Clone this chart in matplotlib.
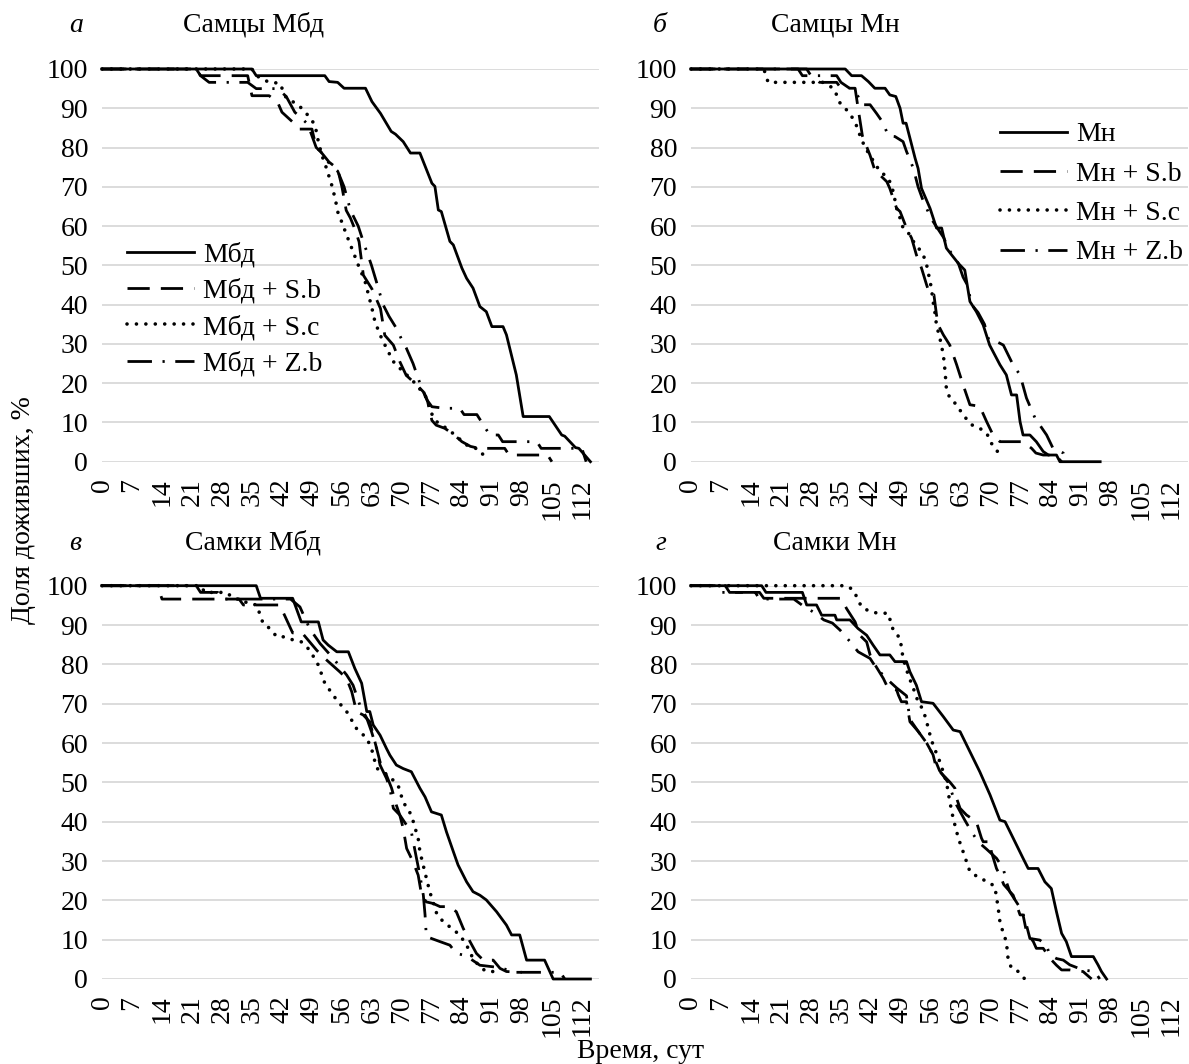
import matplotlib
matplotlib.use("Agg")
import matplotlib.pyplot as plt

plt.rcParams["font.family"] = ["Liberation Serif", "DejaVu Serif"]

# --- data (day, % surviving) ---
TICK_DAYS = [0, 7, 14, 21, 28, 35, 42, 49, 56, 63, 70, 77, 84, 91, 98, 105, 112]
Y_TICKS = [0, 10, 20, 30, 40, 50, 60, 70, 80, 90, 100]

# а: самцы Мбд
a_ctrl_t = [0, 35, 36, 52, 53, 55, 56.5, 61.5, 63, 65, 67.5, 68.5, 70.3, 72, 74.2, 77, 77.7, 78.5, 79.2, 81.2,
            82, 84, 85.1, 86.6, 88.2, 89.7, 91, 93.6, 94.4, 96.7, 98.3, 104.4, 107.3, 108, 110.5, 111.3, 114]
a_ctrl_s = [100, 100, 98.3, 98.3, 96.8, 96.6, 95.1, 95.1, 91.7, 88.7, 84.1, 83.4, 81.5, 78.6, 78.6, 70.9, 70.1,
            64.1, 63.7, 56.1, 55.2, 49.3, 46.7, 44.2, 39.5, 38.2, 34.4, 34.4, 32.3, 22.1, 11.5, 11.5, 6.8, 6.5,
            3.6, 3.4, 0]
a_sb_t = [0, 22, 23, 34, 35, 39, 41, 42, 45, 46, 49, 50, 51, 53, 55, 56, 57, 58, 59, 60, 61, 63, 65, 66, 68,
          69.5, 71, 73.5, 75, 76, 77, 78, 80, 82, 84, 86, 88, 94, 95, 104, 105]
a_sb_s = [100, 100, 98.3, 98.3, 93.2, 93.2, 91.5, 89, 86, 84.7, 84.7, 80, 79, 76.3, 74.6, 70, 64, 62, 59.3, 56,
          47.5, 44, 39, 32.2, 29.7, 25.5, 22, 19.5, 17.8, 15.3, 10.5, 9.3, 8.5, 7, 5.1, 3.9, 3.4, 3.4, 1.7,
          1.7, 0]
a_sc_t = [0, 35, 36, 39, 41.5, 43, 45.8, 48, 49.7, 50.5, 51.3, 52.4, 53.6, 54.4, 55.1, 55.9, 57.1, 58.6, 59.8,
          61.4, 63, 63.7, 64.9, 66.4, 68, 69.5, 71.9, 73.4, 75.8, 76.9, 78.1, 80.4, 82.4, 85, 88.2, 90]
a_sc_s = [100, 100, 98.3, 96.6, 96.4, 92.6, 90.9, 88.3, 85.8, 81.5, 78.1, 74.7, 70.5, 67.1, 63.3, 61.2, 57.7,
          53.5, 50.1, 45.9, 39.1, 35.7, 32.3, 28.9, 25.5, 23.8, 21.3, 19.6, 16.2, 12.3, 10.2, 8.5, 6.8, 4.3,
          3, 0]
a_zb_t = [0, 22, 23, 25, 34, 36, 41, 43, 45, 48, 50, 51, 53, 55, 56.5, 58, 59.8, 61, 62.9, 64, 65.6, 67, 68.7,
          70, 71, 72.6, 74.2, 76, 77, 80, 83.5, 84.5, 87.5, 89, 90.5, 92.5, 93.5, 101.5, 102.5, 112, 113]
a_zb_s = [100, 100, 98.3, 96.6, 96.6, 95, 95, 93, 89, 86, 80, 79, 76, 74, 70, 64, 60, 56, 50, 46, 40, 37, 34,
          31, 29, 25, 20, 15.5, 14, 13.6, 13.6, 12, 12, 9.4, 6.8, 6.8, 5.1, 5.1, 3.4, 3.4, 0]

# б: самцы Мн
b_ctrl_t = [0, 36, 37.5, 39.8, 41.4, 42.9, 45.3, 46.4, 47.8, 48.8, 49.5, 50.2, 51.1, 52.3, 53, 53.8, 55.8,
            57.3, 58.5, 59.6, 60.8, 62.4, 63.9, 65.1, 66.6, 68.2, 69.7, 72.1, 73.6, 74.8, 76, 76.8, 77.5,
            79.1, 80.6, 82.2, 83.4, 85.3, 86.1, 95.5]
b_ctrl_s = [100, 100, 98.3, 98.3, 96.8, 95.1, 95.1, 93.4, 93, 90, 86.2, 86.2, 82.4, 77.3, 74.7, 69.6, 64.5,
            59.5, 59.5, 54.4, 52.7, 50.5, 48.8, 40.8, 38.2, 34.8, 29.7, 24.7, 22.1, 17, 17, 10.2, 6.8, 6.8,
            5.1, 2.6, 1.7, 1.7, 0, 0]
b_sb_t = [0, 27, 28, 30, 34, 35, 38.3, 39, 40, 41.8, 43, 44.1, 45.7, 46.4, 48, 48.8, 50.3, 51.5, 52.6, 53.8,
          55, 55.8, 56.7, 57.3, 57.7, 58.9, 60.4, 62, 63.5, 65.1, 67.4, 69, 70.5, 72.1, 77.5, 79.5, 80.5,
          82.2, 85, 86.5]
b_sb_s = [100, 100, 98.3, 96.6, 96.6, 95.1, 95.1, 90, 83, 78, 73.9, 73, 71.3, 69.6, 64.5, 63.7, 59.5, 56.9,
          52.7, 49.3, 45, 42.5, 42.5, 37.4, 34.8, 32.3, 29.7, 24.7, 19.6, 14.5, 14.1, 10.2, 6.8, 5.1, 5.1,
          3.4, 2.2, 1.7, 1.7, 0]
b_sc_t = [0, 17, 18, 30.9, 33.2, 34, 34.8, 36.3, 37.5, 38.7, 39.4, 40.2, 41.4, 42.9, 44.1, 45.7, 46.4, 47.2,
          48, 48.8, 49.5, 51.1, 51.9, 53.1, 54.2, 55, 55.8, 56.1, 56.5, 56.9, 57.3, 58.1, 58.9, 59.3, 59.6,
          60.4, 62, 63.5, 65.5, 67.4, 69, 70.1, 71.3, 72.5]
b_sc_s = [100, 100, 96.6, 96.6, 95.1, 93.4, 91.3, 89.6, 87.9, 85.4, 83.2, 81.1, 78.6, 76, 73.9, 72.6, 71.3,
          68.8, 64.5, 62, 59.5, 57.8, 56.1, 54.4, 52.7, 50.1, 45.9, 44.2, 40.8, 38.2, 34.8, 31.4, 27.2, 23,
          18.7, 16.2, 14.5, 11.9, 9.4, 8.5, 7.3, 4.7, 3, 0.9]
b_zb_t = [0, 25, 26, 34, 35, 37, 39, 39.8, 41.8, 43.3, 44.9, 46, 47.6, 49.5, 50.3, 51.9, 53, 54, 56, 57.5, 59,
          60, 61, 62.4, 63.5, 64.5, 65.5, 67, 68.5, 69.5, 71.3, 72.9, 75.2, 76.8, 78.3, 80.3, 83, 84.5, 86.9,
          87.6]
b_zb_s = [100, 100, 98.3, 98.3, 96.6, 95.1, 93, 90.9, 90.9, 88.7, 86.2, 83, 82.8, 81.5, 79, 74.7, 70, 67, 62,
          59.5, 57, 54.4, 52.7, 50.5, 47, 45, 40, 38, 35, 31, 30.6, 29.7, 24.6, 22.1, 16.2, 11.1, 6.8, 3.4,
          2.2, 0]

# в: самки Мбд
c_ctrl_t = [0, 36, 37, 44.5, 46.5, 50.5, 51.6, 52.8, 54.8, 57.5, 59, 60.6, 61.8, 62.5, 63.3, 64.9, 66.4, 67.2,
            68.7, 70.3, 72.2, 74.2, 75.4, 76.9, 79.2, 80.4, 82, 83.1, 85.1, 86.6, 88.2, 89.7, 92.1, 94.4,
            95.6, 97.5, 99.1, 103.3, 105.3, 114]
c_ctrl_s = [100, 100, 96.8, 96.8, 90.8, 90.8, 86.2, 84.9, 83.2, 83.2, 79, 75.2, 68, 68, 64.6, 62, 58.6, 56.9,
            54.4, 53.5, 52.7, 48.5, 46.3, 42.5, 41.7, 37.4, 32.4, 29, 24.7, 22.2, 21.3, 20.1, 17.1, 13.7,
            11.2, 11.2, 4.8, 4.8, 0, 0]
c_sb_t = [0, 13, 14, 32, 33, 41.5, 44.5, 46.7, 50.1, 51.6, 55.5, 57.1, 58.3, 59.4, 61, 62.5, 63.3, 64.9, 66.4,
          67.6, 68.7, 69.5, 70.3, 71.1, 72.6, 73.8, 74.6, 75.7, 77.3, 78.9, 81.2, 82.7, 84.3, 85.9, 87.4, 89,
          91.3, 92.9, 94.4, 98]
c_sb_s = [100, 100, 96.6, 96.6, 95.1, 95.1, 88, 88, 83.6, 81.9, 78.1, 76.4, 73, 68, 67.1, 65.4, 62, 55.2,
          51.8, 48.5, 44.2, 41.7, 38.3, 33.2, 29.8, 26.4, 21.3, 19.6, 19.2, 18.4, 18.4, 17.1, 12.9, 9.5, 6.5,
          4.8, 4.8, 2.7, 1.9, 1.7]
c_sc_t = [0, 23, 24, 29, 31, 32.5, 34, 36.1, 37.6, 39.2, 40.8, 42.7, 44.6, 46.6, 48.5, 50.5, 52, 54.8, 57.1,
          59.4, 61.8, 62.9, 64.1, 66.8, 69.1, 70.3, 72.2, 73.8, 74.2, 75.4, 76.5, 78.1, 79.6, 81.6, 83.5,
          85.1, 86.6, 88.2, 89.7, 92]
c_sc_s = [100, 100, 98.3, 98.3, 96.6, 96.6, 95.5, 95.1, 90.4, 89.1, 87, 87, 86.2, 85.7, 83.6, 79.8, 75.2,
          70.9, 68, 63.7, 61.2, 58.6, 53.6, 51.8, 49.3, 45, 41.7, 35.7, 32.4, 27, 22.2, 16.7, 14.6, 12.9,
          11.2, 8.6, 5.2, 3.1, 1.9, 1.9]
c_zb_t = [0, 22, 23, 27, 28, 44, 46.2, 48.5, 50.9, 54, 57.1, 58.6, 60.2, 61.8, 62.9, 64.1, 64.9, 66.4, 67.2,
          68, 69.5, 71.1, 72.2, 73.4, 74.2, 75, 75.4, 75.7, 76.9, 78.9, 81.2, 82.7, 84.3, 85.9, 88.2, 91.3,
          93.6, 96, 107, 108]
c_zb_s = [100, 100, 98.3, 98.3, 96.6, 96.6, 94.6, 89, 85.3, 81.5, 77.3, 74.7, 69.6, 66.3, 62.9, 58.6, 54.4,
          51, 48.5, 43.4, 41.7, 39.1, 37.4, 30.7, 26.4, 21.3, 16.3, 10.8, 10.3, 9.5, 8.6, 6.5, 6.1, 5.2, 3.5,
          3.1, 2.7, 1.7, 1.7, 0]

# г: самки Мн
d_ctrl_t = [0, 16.5, 17.5, 26, 27, 29.3, 30.5, 33.6, 34, 37.1, 39, 41, 42.5, 44.1, 46.4, 47.6, 50.3, 51.1,
            52.6, 53.8, 56.5, 58.9, 61.2, 62.8, 65.1, 67.4, 69.8, 72.1, 73.3, 75.2, 77.5, 78.7, 81, 82.6,
            84.1, 85.3, 86.5, 87.6, 88.8, 93.9, 95, 95.8, 97]
d_ctrl_s = [100, 100, 98.3, 98.3, 95.1, 95.1, 92.5, 92.5, 91.3, 91.3, 89.1, 87.4, 84.9, 82.4, 82.4, 80.7,
            80.7, 78.1, 74.7, 70.5, 70.1, 66.7, 63.3, 62.9, 57.8, 52.7, 46.8, 40.4, 40, 35.8, 30.7, 28.1,
            28.1, 24.7, 23, 17.1, 11.6, 9.5, 5.7, 5.7, 3.6, 1.9, 0]
d_sb_t = [0, 8, 9, 16, 17, 35.1, 36.3, 38.3, 39.4, 41, 41.8, 43, 44.9, 46, 48, 48.4, 49.1, 50.3, 51.1, 53, 55,
          56.5, 57.3, 58.1, 60.4, 61.6, 62, 62.8, 64.3, 66.6, 67.8, 68.2, 69.8, 70.1, 71.3, 72.1, 73, 75.2,
          76.8, 77.5, 78.3, 79.9, 80.6, 82.2, 84, 85.3, 86.5, 88.4, 91.5, 93.5]
d_sb_s = [100, 100, 98.3, 98.3, 96.8, 96.8, 94.2, 90.8, 87.4, 85.7, 82.4, 79.8, 76.4, 73.9, 73.5, 72.2, 70.5,
          70.5, 65.4, 63, 60, 57, 53.5, 52.7, 50.1, 48.5, 45.9, 43.4, 41.7, 40, 35.8, 34.9, 34.9, 32.4, 28.1,
          26.4, 24, 21.3, 16.3, 16.3, 12, 9.5, 7.8, 7.8, 5, 3.5, 2.3, 2.3, 1.9, 0]
d_sc_t = [0, 36.3, 37.9, 39.8, 41.8, 43.7, 46, 47.2, 48.8, 49.5, 50.7, 51.9, 53, 54.2, 55, 55.8, 56.5, 58.1,
          59.6, 60.4, 61.2, 62.4, 63.5, 65.1, 67.4, 69.4, 70.9, 71.3, 71.7, 72.1, 72.9, 73.6, 74, 74.8, 76.4,
          77.9]
d_sc_s = [100, 100, 98.9, 94.6, 93.4, 93, 93, 88.7, 86.6, 81.5, 77.3, 73.9, 70.5, 68.4, 65.4, 62, 59.5, 55.2,
          50.2, 45.1, 40.8, 35.8, 32.4, 27.3, 25.6, 24.7, 23.5, 20.9, 18, 14.6, 11.6, 9.5, 5.2, 2.7, 1.9, 0]
d_zb_t = [0, 6, 7, 15, 16, 24, 26, 29, 31, 33, 34.8, 37.1, 39, 41.8, 43.3, 46, 48, 50.3, 51.1, 53, 55, 56.5,
          58, 60, 61, 62, 63.9, 65.5, 67, 69, 71.3, 72.9, 73.6, 74.4, 76.4, 77.1, 78.3, 79.1, 81.4, 83, 83.7,
          85.3, 86.9, 88.4, 91.5, 94.2, 95.4]
d_zb_s = [100, 100, 98.3, 98.3, 96.6, 96.6, 95, 93, 91.3, 90.5, 88.7, 85.8, 83.2, 81.5, 79, 76, 74, 72, 66,
          63, 60, 57, 53, 50, 47, 44.2, 40.4, 37.4, 34.9, 33, 30.7, 28.1, 24.7, 22.2, 18.8, 18, 13.7, 10.3,
          9.9, 8.6, 6.1, 5.2, 4.8, 3.6, 2.3, 1.9, 0]

W, H = 1189, 1064
fig = plt.figure(figsize=(W / 100, H / 100), dpi=100)


def px_axes(left, top, right, bottom):
    return fig.add_axes([left / W, 1 - bottom / H, (right - left) / W, (bottom - top) / H])


def fig_text(x, y, s, **kw):
    fig.text(x / W, 1 - y / H, s, **kw)


# line styles: solid, long dash, round dot, long dash-dot
styles = [
    dict(linestyle="-", linewidth=2.0),
    dict(linestyle=(0, (8, 4)), linewidth=2.0, dash_capstyle="butt"),
    dict(linestyle=(0, (0.01, 2.6)), linewidth=2.6, dash_capstyle="round"),
    dict(linestyle=(0, (8.8, 3.8, 0.8, 3.8)), linewidth=2.0, dash_capstyle="butt"),
]

panels = [
    dict(box=(102, 69, 599, 461.7), letter="а", letter_xy=(76, 25), title="Самцы Мбд", title_xy=(254, 25),
         base="Мбд", series=[(a_ctrl_t, a_ctrl_s), (a_sb_t, a_sb_s), (a_sc_t, a_sc_s), (a_zb_t, a_zb_s)],
         legend=(127, 242, 0.39)),
    dict(box=(691, 69, 1188, 461.7), letter="б", letter_xy=(660, 25), title="Самцы Мн", title_xy=(835, 25),
         base="Мн", series=[(b_ctrl_t, b_ctrl_s), (b_sb_t, b_sb_s), (b_sc_t, b_sc_s), (b_zb_t, b_zb_s)],
         legend=(1000, 122, 0.5)),
    dict(box=(102, 585.7, 599, 979), letter="в", letter_xy=(75, 543), title="Самки Мбд", title_xy=(253, 543),
         base="Мбд", series=[(c_ctrl_t, c_ctrl_s), (c_sb_t, c_sb_s), (c_sc_t, c_sc_s), (c_zb_t, c_zb_s)],
         legend=None),
    dict(box=(691, 585.7, 1188, 979), letter="г", letter_xy=(661, 543), title="Самки Мн", title_xy=(835, 543),
         base="Мн", series=[(d_ctrl_t, d_ctrl_s), (d_sb_t, d_sb_s), (d_sc_t, d_sc_s), (d_zb_t, d_zb_s)],
         legend=None),
]
suffixes = ["", " + S.b", " + S.c", " + Z.b"]

for p in panels:
    ax = px_axes(*p["box"])
    ax.set_xlim(0, 116)
    ax.set_ylim(0, 100)
    for sp in ax.spines.values():
        sp.set_visible(False)
    ax.set_yticks(Y_TICKS)
    ax.set_xticks(TICK_DAYS)
    ax.set_xticklabels([str(t) for t in TICK_DAYS], rotation=90)
    ax.tick_params(axis="both", length=0, labelsize=20)
    ax.tick_params(axis="x", pad=12)
    ax.tick_params(axis="y", pad=10)
    ax.grid(axis="y", color="#d9d9d9", linewidth=1.3)
    ax.set_axisbelow(True)

    handles = []
    for (t, s), st, suf in zip(p["series"], styles, suffixes):
        ln, = ax.plot(t, s, color="black", clip_on=False, zorder=3, label=p["base"] + suf, **st)
        handles.append(ln)

    if p["legend"]:
        lx, ly, sp_ = p["legend"]
        ax.legend(handles=handles, loc="upper left", bbox_to_anchor=(lx / W, 1 - ly / H),
                  bbox_transform=fig.transFigure, frameon=False, fontsize=20, borderpad=0,
                  borderaxespad=0, handlelength=2.4, handletextpad=0.35, labelspacing=sp_)

    fig_text(*p["letter_xy"], p["letter"], fontsize=20, style="italic", ha="center", va="center")
    fig_text(*p["title_xy"], p["title"], fontsize=20, ha="center", va="center")

fig_text(24, 510, "Доля доживших, %", fontsize=20, rotation=90, ha="center", va="center")
fig_text(641, 1051, "Время, сут", fontsize=20, ha="center", va="center")

fig.savefig("out.png", dpi=100)
